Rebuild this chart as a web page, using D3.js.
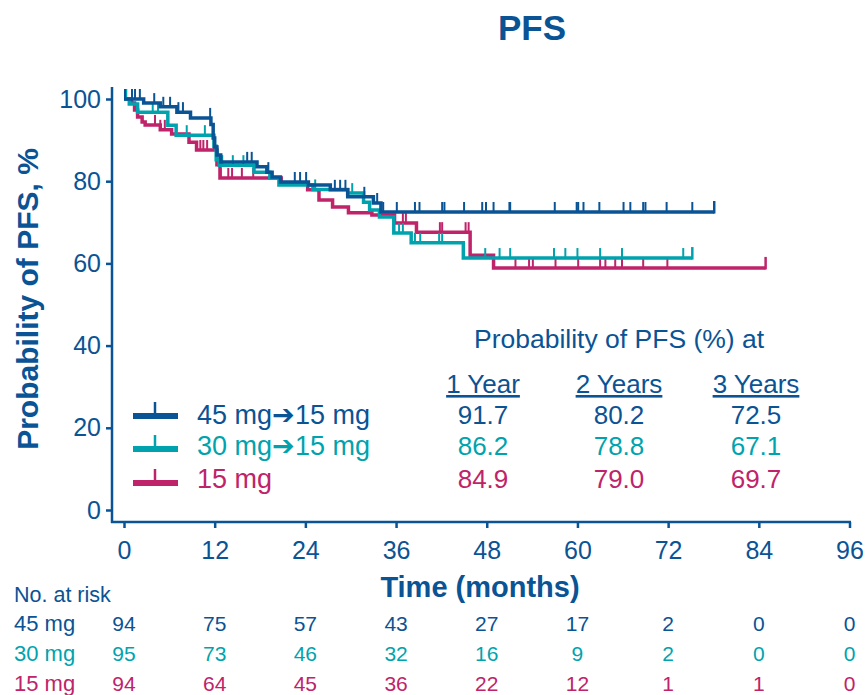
<!DOCTYPE html>
<html><head><meta charset="utf-8">
<script src="https://cdn.jsdelivr.net/npm/d3@7"></script>
<style>body{margin:0;background:#fff} svg{display:block} text{font-family:"Liberation Sans",Arial,sans-serif}</style>
</head><body><svg id="c" width="868" height="695"></svg>
<script>
const xTicks = [0,12,24,36,48,60,72,84,96];
const yTicks = [0,20,40,60,80,100];
const seriesNames = ["45 mg\u279415 mg","30 mg\u279415 mg","15 mg"];
const riskLabels = ["45 mg","30 mg","15 mg"];
const colors = ["#0A5394","#00A3AD","#BF2369"];
const axisColor = "#0A5394";

// Kaplan-Meier steps [time (months), probability %]
const steps45 = [[0,100],[2.6,99.0],[4.8,98.1],[7.0,96.8],[8.8,95.4],[11.5,93.8],[11.8,90.5],[12.0,88.3],[12.3,86.4],[12.8,84.7],[17.6,83.5],[18.9,82.2],[19.6,81.0],[20.7,79.8],[24.4,79.1],[27.3,77.9],[29.6,76.2],[33.0,74.7],[34.0,72.5]];
const steps30 = [[0,100],[0.7,98.8],[1.8,96.8],[5.8,93.6],[6.9,91.2],[11.9,88.5],[12.2,85.2],[12.6,83.9],[17.2,82.2],[19.3,80.8],[20.5,79.1],[25.0,78.0],[29.6,77.1],[31.7,74.9],[32.5,73.0],[33.8,71.3],[35.7,67.4],[38.0,65.0],[44.9,61.3]];
const steps15 = [[0,100],[1.0,99.0],[1.4,97.3],[1.8,95.6],[2.4,94.4],[2.8,93.7],[4.8,92.5],[6.3,91.5],[8.6,89.5],[9.6,87.6],[12.3,84.0],[12.7,80.8],[20.8,79.3],[24.3,77.9],[25.8,75.4],[27.6,73.7],[29.7,72.3],[32.8,71.8],[35.8,69.8],[38.7,67.6],[45.8,62.0],[48.9,58.9]];
const end45 = 78.1, end30 = 75.2, end15 = 84.9;

// censoring times (months)
const cens45 = [0.13,1.06,1.46,2.1,4.0,5.2,6.1,7.2,7.8,11.4,16.3,16.9,19.1,22.6,23.3,24.1,27.9,28.6,29.3,31.8,33.5,34.3,36.1,38.5,39.1,42.1,42.4,45.0,47.4,47.9,48.9,51.0,51.1,57.0,59.9,60.1,60.8,62.9,66.1,67.0,68.7,69.0,71.8,75.2];
const cens30 = [0.3,3.8,4.5,8.3,10.7,12.4,13.0,14.4,15.8,25.3,30.2,36.4,36.9,38.5,39.2,41.7,42.1,47.8,49.7,51.1,56.9,58.4,60.0,63.0,65.9,74.0];
const cens15 = [4.1,4.8,5.4,10.1,10.5,11.0,12.8,13.8,14.3,15.6,17.1,36.9,37.3,41.8,42.1,45.2,45.6,51.8,53.6,54.1,57.1,60.1,63.0,63.7,65.0,65.9,68.7,71.9];

// at-risk table
const risk45 = [94,75,57,43,27,17,2,0,0];
const risk30 = [95,73,46,32,16,9,2,0,0];
const risk15 = [94,64,45,36,22,12,1,1,0];

// landmark table
const landmarkHeaders = ["1 Year","2 Years","3 Years"];
const land45 = ["91.7","80.2","72.5"];
const land30 = ["86.2","78.8","67.1"];
const land15 = ["84.9","79.0","69.7"];

const svg = d3.select("#c");
const x = d3.scaleLinear().domain([0,96]).range([124,849.5]);
const y = d3.scaleLinear().domain([0,100]).range([510,99]);

// title
svg.append("text").attr("x",532).attr("y",40).attr("text-anchor","middle")
  .attr("font-size",35).attr("font-weight","bold").attr("fill",axisColor).text("PFS");

// axes
const gy = svg.append("g").attr("transform","translate(112,0)")
  .call(d3.axisLeft(y).tickValues(yTicks).tickSize(6).tickPadding(5));
gy.select(".domain").remove();
gy.selectAll("line").attr("stroke",axisColor).attr("stroke-width",2.5);
gy.selectAll("text").attr("font-size",25).attr("fill",axisColor).attr("font-family","Liberation Sans, Arial, sans-serif");
svg.append("line").attr("x1",112).attr("x2",112).attr("y1",87).attr("y2",523)
  .attr("stroke",axisColor).attr("stroke-width",2.5);

const gx = svg.append("g").attr("transform","translate(0,522)")
  .call(d3.axisBottom(x).tickValues(xTicks).tickSize(6).tickPadding(13));
gx.select(".domain").remove();
gx.selectAll("line").attr("stroke",axisColor).attr("stroke-width",2.5);
gx.selectAll("text").attr("font-size",25).attr("fill",axisColor).attr("font-family","Liberation Sans, Arial, sans-serif");
svg.append("line").attr("x1",111).attr("x2",851).attr("y1",522).attr("y2",522)
  .attr("stroke",axisColor).attr("stroke-width",2.5);

svg.append("text").attr("x",480).attr("y",597).attr("text-anchor","middle")
  .attr("font-size",29).attr("font-weight","bold").attr("fill",axisColor).text("Time (months)");
svg.append("text").attr("transform","translate(38,299) rotate(-90)").attr("text-anchor","middle")
  .attr("font-size",30).attr("font-weight","bold").attr("fill",axisColor).text("Probability of PFS, %");

// curves
const series = [
  {steps:steps15,end:end15,cens:cens15,color:colors[2]},
  {steps:steps30,end:end30,cens:cens30,color:colors[1]},
  {steps:steps45,end:end45,cens:cens45,color:colors[0]}
];
function surv(steps,t){let v=steps[0][1];for(const s of steps){if(s[0]<=t)v=s[1];}return v;}
const line = d3.line().x(d=>x(d[0])).y(d=>y(d[1])).curve(d3.curveStepAfter);
series.forEach(s=>{
  const pts = s.steps.concat([[s.end,s.steps[s.steps.length-1][1]]]);
  svg.append("path").attr("d",line(pts)).attr("fill","none").attr("stroke",s.color)
    .attr("stroke-width",3.5);
  svg.selectAll(null).data(s.cens).enter().append("line")
    .attr("x1",d=>x(d)).attr("x2",d=>x(d))
    .attr("y1",d=>y(surv(s.steps,d))).attr("y2",d=>y(surv(s.steps,d))-10)
    .attr("stroke",s.color).attr("stroke-width",2);
  const ly = y(s.steps[s.steps.length-1][1]);
  svg.append("line").attr("x1",x(s.end)).attr("x2",x(s.end)).attr("y1",ly+1.5).attr("y2",ly-11)
    .attr("stroke",s.color).attr("stroke-width",2.5);
});

// legend
const legY = [416,449,483];
const textY = [424,455,488];
seriesNames.forEach((n,i)=>{
  svg.append("line").attr("x1",133).attr("x2",178).attr("y1",legY[i]).attr("y2",legY[i])
    .attr("stroke",colors[i]).attr("stroke-width",6);
  svg.append("line").attr("x1",155).attr("x2",155).attr("y1",legY[i]).attr("y2",legY[i]-14)
    .attr("stroke",colors[i]).attr("stroke-width",2.5);
  svg.append("text").attr("x",197).attr("y",textY[i]).attr("font-size",27)
    .attr("fill",colors[i]).text(n);
});

// landmark table
svg.append("text").attr("x",474).attr("y",348).attr("font-size",26.5).attr("fill",axisColor)
  .text("Probability of PFS (%) at");
const colX = [483,619,756];
landmarkHeaders.forEach((h,j)=>{
  svg.append("text").attr("x",colX[j]).attr("y",393).attr("text-anchor","middle")
    .attr("font-size",26).attr("fill",axisColor).attr("text-decoration","underline").text(h);
});
[land45,land30,land15].forEach((row,i)=>{
  row.forEach((v,j)=>{
    svg.append("text").attr("x",colX[j]).attr("y",textY[i]).attr("text-anchor","middle")
      .attr("font-size",26).attr("fill",colors[i]).text(v);
  });
});

// risk table
svg.append("text").attr("x",14).attr("y",602).attr("font-size",21.5).attr("fill",axisColor).text("No. at risk");
const rowY = [631,661,691];
[risk45,risk30,risk15].forEach((row,i)=>{
  svg.append("text").attr("x",14).attr("y",rowY[i]).attr("font-size",22).attr("fill",colors[i]).text(riskLabels[i]);
  row.forEach((v,j)=>{
    svg.append("text").attr("x",x(xTicks[j])).attr("y",rowY[i]).attr("text-anchor","middle")
      .attr("font-size",21).attr("fill",colors[i]).text(v);
  });
});
</script></body></html>
